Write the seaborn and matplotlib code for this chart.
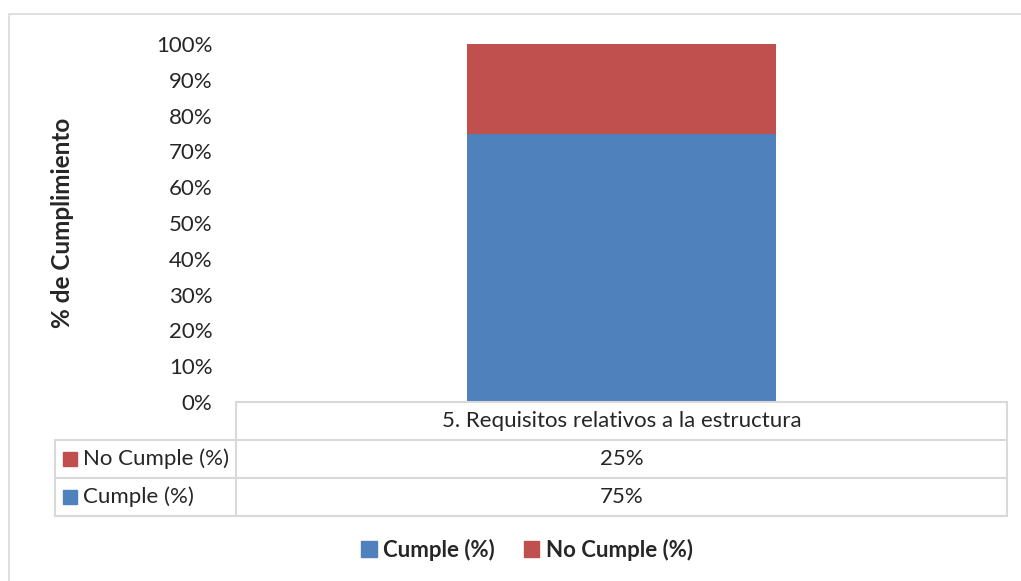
import pandas as pd
import matplotlib.pyplot as plt
import seaborn as sns
from matplotlib.lines import Line2D
from matplotlib.patches import Rectangle, Patch

# data
categoria = ['5. Requisitos relativos a la estructura']
cumple = [75]
no_cumple = [25]
series = ['Cumple (%)', 'No Cumple (%)']
colores = ['#4F81BD', '#C0504D']
yticks = [0, 10, 20, 30, 40, 50, 60, 70, 80, 90, 100]

sns.set_style('white')
plt.rcParams['font.family'] = ['Lato', 'DejaVu Sans']

W, H = 1021, 581
fig = plt.figure(figsize=(W / 100, H / 100), dpi=100)

def fx(x):
    return x / W

def fy(y):
    return 1 - y / H

ax = fig.add_axes([fx(236), fy(402), fx(1007) - fx(236), fy(44) - fy(402)])

df = pd.DataFrame({'cat': categoria,
                   'total': [c + n for c, n in zip(cumple, no_cumple)],
                   'cumple': cumple})
sns.barplot(data=df, x='cat', y='total', color=colores[1], width=0.4, ax=ax,
            saturation=1, linewidth=0)
sns.barplot(data=df, x='cat', y='cumple', color=colores[0], width=0.4, ax=ax,
            saturation=1, linewidth=0)

ax.set_xlim(-0.5, 0.5)
ax.set_ylim(0, 100)
ax.set_yticks(yticks)
ax.set_yticklabels([f'{v}%' for v in yticks], fontsize=16)
ax.tick_params(axis='y', length=0, pad=17)
ax.set_xticks([])
ax.set_xlabel('')
ax.set_ylabel('')
for s in ax.spines.values():
    s.set_visible(False)

fig.text(fx(63), fy(223), '% de Cumplimiento', rotation=90, ha='center', va='center',
         fontsize=17.5, fontweight='bold')

# outer chart border
fig.add_artist(Rectangle((fx(9), fy(1000)), fx(2000), fy(14) - fy(1000),
                         transform=fig.transFigure, fill=False, ec='#D9D9D9', lw=1.2))

# data table
gc = '#D9D9D9'
def hline(y, x0, x1):
    fig.add_artist(Line2D([fx(x0), fx(x1)], [fy(y), fy(y)], color=gc, lw=1.5))
def vline(x, y0, y1):
    fig.add_artist(Line2D([fx(x), fx(x)], [fy(y0), fy(y1)], color=gc, lw=1.5))

hline(402, 236, 1007)
hline(440, 55, 1007)
hline(478, 55, 1007)
hline(516, 55, 1007)
vline(236, 402, 516)
vline(1007, 402, 516)
vline(55, 440, 516)

cx = (236 + 1007) / 2
fig.text(fx(cx), fy(421), categoria[0], ha='center', va='center', fontsize=16)
filas = [(series[1], no_cumple[0], colores[1], 459), (series[0], cumple[0], colores[0], 497)]
for nombre, val, col, yy in filas:
    fig.add_artist(Rectangle((fx(63), fy(yy + 7)), fx(14), fy(yy - 7) - fy(yy + 7),
                             transform=fig.transFigure, color=col))
    fig.text(fx(83), fy(yy), nombre, ha='left', va='center', fontsize=16)
    fig.text(fx(cx), fy(yy), f'{val}%', ha='center', va='center', fontsize=16)

handles = [Patch(color=c, label=s) for s, c in zip(series, colores)]
fig.legend(handles=handles, loc='center', bbox_to_anchor=(fx(527), fy(550)), ncol=2,
           frameon=False, prop={'size': 16, 'weight': 'bold'}, handlelength=0.7,
           handleheight=0.7, handletextpad=0.3, columnspacing=1.3)

fig.savefig('out.png', dpi=100)
